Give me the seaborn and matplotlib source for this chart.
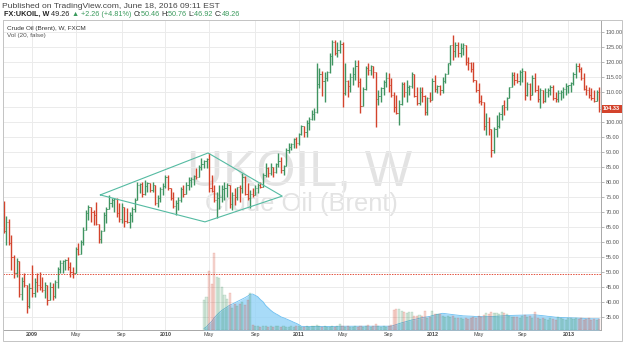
import matplotlib
matplotlib.use("Agg")
import matplotlib.pyplot as plt
import matplotlib.transforms as mtransforms
from matplotlib.colors import to_rgba
from matplotlib.patches import Rectangle
from matplotlib.ticker import StrMethodFormatter
import seaborn as sns
import numpy as np
import pandas as pd

# Weekly OHLC bars, FX:UKOIL, first bar = week of 2008-10-20
first_week = "2008-10-20"
first_open = 72.5
highs = [
    73.7, 68.4, 67.6, 62.3, 55.5, 54.6, 53.5, 48.2, 49.6, 45.6,
    46.2, 52.2, 47.9, 49.6, 49.9, 48.2, 46.5, 45.6, 46.5, 46.2,
    47.2, 51.5, 53.9, 53.9, 54.2, 54.9, 53.2, 51.6, 58.2, 59.6,
    60.6, 64.9, 70.6, 72.3, 71.6, 70.5, 73.3, 66.0, 63.9, 69.9,
    71.6, 75.6, 74.6, 74.6, 74.6, 72.9, 72.9, 71.6, 71.3, 69.9,
    71.7, 74.6, 80.0, 79.5, 80.0, 80.6, 80.0, 79.5, 80.0, 78.8,
    75.6, 78.4, 79.5, 82.3, 82.3, 78.0, 76.6, 73.9, 75.0, 78.4,
    78.9, 80.0, 81.6, 81.7, 82.3, 84.6, 85.6, 87.9, 87.3, 87.9,
    89.6, 82.3, 78.9, 76.6, 79.0, 78.9, 80.0, 79.5, 78.8, 76.7,
    77.8, 78.4, 78.9, 83.0, 82.0, 79.5, 77.3, 77.8, 78.9, 79.5,
    80.0, 82.8, 86.2, 85.0, 86.2, 85.0, 86.2, 89.5, 88.4, 85.6,
    91.2, 92.8, 92.8, 94.5, 95.0, 96.2, 99.0, 98.5, 100.6, 101.7,
    104.0, 104.5, 119.5, 117.9, 117.0, 116.5, 117.0, 123.0, 127.3, 127.3,
    126.5, 127.3, 126.8, 119.5, 114.0, 116.2, 118.4, 120.5, 120.7, 114.7,
    111.7, 118.5, 119.5, 119.0, 118.5, 116.5, 110.6, 111.7, 114.0, 116.8,
    116.2, 114.5, 110.0, 109.0, 107.3, 113.4, 113.4, 114.0, 112.3, 116.7,
    116.0, 111.7, 111.7, 111.7, 109.0, 108.4, 110.0, 114.7, 115.6, 112.3,
    112.3, 115.0, 116.2, 119.7, 125.7, 129.0, 126.8, 126.8, 126.2, 126.2,
    125.6, 121.7, 120.1, 120.0, 114.0, 113.0, 109.0, 106.5, 103.0, 101.7,
    97.5, 98.3, 102.3, 103.4, 105.6, 107.3, 108.4, 111.6, 116.7, 116.8,
    116.2, 117.3, 118.0, 117.0, 113.4, 112.9, 115.6, 116.2, 112.3, 111.3,
    110.5, 111.2, 111.2, 112.3, 112.3, 110.0, 110.6, 110.6, 111.7, 112.9,
    112.3, 113.4, 116.7, 119.7, 119.7, 118.4, 116.3, 112.3, 111.7, 111.2,
    110.7, 110.6, 111.6,
]
lows = [
    63.0, 58.9, 58.9, 50.6, 47.8, 48.2, 41.6, 40.5, 44.9, 36.2,
    37.9, 41.6, 41.6, 43.2, 43.9, 43.2, 41.2, 38.9, 40.5, 40.5,
    41.2, 44.5, 49.6, 49.6, 50.6, 50.6, 48.2, 47.9, 49.5, 55.6,
    55.8, 58.9, 63.8, 67.2, 66.6, 65.6, 65.6, 59.6, 59.6, 63.5,
    66.2, 70.8, 71.6, 69.9, 68.3, 66.6, 66.2, 64.9, 66.2, 64.6,
    66.7, 69.9, 74.0, 76.2, 75.0, 75.6, 76.7, 76.7, 76.7, 72.3,
    71.7, 73.4, 75.6, 77.9, 77.3, 73.9, 71.3, 68.9, 70.6, 73.4,
    75.0, 75.8, 77.3, 78.4, 78.9, 81.0, 81.7, 83.9, 84.5, 84.6,
    76.6, 76.6, 73.4, 67.9, 71.0, 73.4, 74.0, 75.0, 71.2, 70.6,
    72.3, 73.9, 73.4, 76.3, 75.6, 73.9, 71.2, 75.0, 75.5, 76.2,
    77.8, 78.3, 81.7, 81.7, 82.3, 81.7, 82.8, 85.0, 82.8, 82.3,
    85.3, 89.5, 90.5, 91.2, 91.2, 92.3, 95.6, 95.0, 95.0, 97.3,
    100.6, 100.6, 102.9, 111.2, 108.5, 106.6, 113.5, 116.3, 119.0, 122.3,
    121.5, 123.0, 105.0, 109.0, 108.4, 110.0, 112.3, 114.0, 111.7, 103.0,
    105.2, 110.6, 115.7, 115.6, 114.5, 98.4, 105.6, 106.7, 109.0, 111.7,
    110.0, 108.4, 103.4, 102.5, 99.0, 105.6, 108.4, 106.7, 109.0, 111.3,
    108.3, 105.6, 105.6, 106.7, 102.3, 102.3, 106.7, 107.3, 110.0, 109.5,
    109.0, 109.5, 112.9, 116.0, 119.0, 120.7, 121.8, 121.8, 121.8, 122.3,
    119.0, 117.3, 116.8, 113.3, 110.0, 106.3, 105.6, 97.3, 95.6, 95.6,
    88.3, 89.6, 95.0, 97.9, 100.6, 102.3, 104.0, 108.0, 111.5, 112.3,
    112.9, 112.3, 113.3, 107.3, 108.5, 107.3, 109.0, 110.0, 106.7, 104.6,
    106.2, 106.7, 108.4, 109.0, 107.3, 106.7, 106.7, 107.3, 107.9, 109.0,
    109.5, 110.0, 112.3, 114.7, 116.7, 114.0, 110.6, 109.0, 107.9, 107.3,
    106.6, 107.0, 103.3,
]
closes = [
    63.6, 66.5, 59.5, 55.0, 49.5, 53.5, 42.5, 47.0, 45.5, 38.5,
    44.5, 43.0, 46.5, 45.5, 45.0, 44.0, 45.5, 40.5, 45.0, 42.0,
    46.5, 51.0, 53.0, 53.5, 53.8, 51.5, 50.0, 49.5, 57.5, 56.0,
    60.0, 64.0, 69.5, 71.5, 70.0, 69.0, 66.0, 61.0, 63.5, 69.0,
    71.0, 73.0, 73.8, 74.2, 69.5, 67.5, 71.5, 67.0, 66.5, 69.0,
    71.0, 74.0, 79.0, 79.3, 76.0, 78.5, 79.5, 77.2, 78.8, 73.0,
    74.5, 77.5, 78.5, 81.5, 78.0, 74.5, 72.0, 73.0, 74.0, 77.5,
    76.0, 79.0, 80.5, 81.0, 82.0, 81.7, 85.0, 86.0, 86.8, 87.5,
    78.0, 77.0, 74.0, 74.5, 75.0, 77.5, 78.0, 78.8, 72.5, 75.6,
    74.8, 78.2, 77.8, 81.5, 76.0, 74.5, 76.0, 75.5, 78.0, 79.0,
    78.3, 82.3, 84.5, 83.0, 85.0, 83.2, 86.0, 87.0, 84.0, 85.3,
    90.7, 91.5, 92.5, 94.3, 93.0, 96.0, 98.5, 96.5, 99.5, 100.8,
    102.5, 103.2, 112.5, 116.0, 113.8, 114.5, 116.5, 122.0, 126.5, 123.0,
    124.0, 125.9, 109.5, 113.8, 112.0, 115.0, 116.0, 118.8, 113.2, 105.2,
    111.0, 118.0, 117.2, 118.5, 116.5, 107.5, 108.6, 111.3, 113.3, 114.5,
    112.2, 109.0, 105.0, 103.0, 105.9, 112.5, 109.8, 111.5, 112.0, 116.0,
    108.5, 106.4, 110.0, 108.6, 103.4, 107.9, 107.4, 113.5, 111.0, 111.8,
    110.5, 113.5, 116.0, 119.6, 125.5, 123.5, 125.8, 123.0, 124.5, 125.6,
    120.0, 119.5, 117.5, 114.0, 110.5, 107.0, 106.5, 98.5, 100.0, 97.5,
    90.5, 97.5, 98.5, 102.5, 105.5, 105.0, 108.0, 111.5, 115.5, 114.0,
    113.5, 116.5, 117.0, 109.0, 112.5, 109.0, 114.5, 110.5, 107.5, 110.5,
    107.0, 110.0, 110.5, 111.5, 108.0, 107.5, 109.5, 110.0, 110.8, 112.0,
    112.2, 113.0, 116.0, 118.8, 117.5, 114.5, 111.0, 110.5, 109.0, 108.0,
    107.0, 110.0, 104.33,
]

# Volume (arbitrary units) starts at bar 78 (week of 2010-04-19)
vol_start = 78
volumes = [
    30, 33, 59, 46, 77, 53, 52, 43, 35, 31, 37, 22, 26, 24, 26, 28, 25, 30, 37,
    5, 4, 4, 3, 4, 4, 3, 4, 3, 4,
    4, 3, 4, 3, 3, 4, 3, 4, 4, 3,
    3, 4, 3, 4, 4, 5, 4, 3, 4, 3,
    3, 4, 3, 4, 6, 4, 3, 4, 3, 3,
    4, 3, 4, 3, 4, 5, 3, 4, 6, 4,
    3, 4, 3, 4, 5,
    20, 21, 21, 19, 18, 17, 18, 18, 14, 14,
    15, 14, 19, 12, 13, 19, 16, 16, 16, 14,
    13, 14, 13, 14, 12, 12, 12, 11, 12, 11,
    12, 13, 12, 14, 13, 15, 17, 16, 18, 17,
    17, 16, 18, 17, 16, 14, 13, 13, 13, 12,
    14, 15, 13, 14, 12, 18, 12, 11, 12, 11,
    10, 12, 11, 10, 13, 12, 11, 10, 12, 12,
    11, 12, 11, 12, 10, 11, 12, 10, 11, 10,
    11,
]
ma_length = 20

# Drawing (diamond) annotation, in bar-index / price units
diamond_x = [37.6, 79.6, 108.5, 78.4, 37.6]
diamond_y = [75.6, 89.6, 75.2, 66.6, 75.6]
current_price = 49.26

# Theme
sns.set_style("white")
plt.rcParams["font.family"] = ["Liberation Sans", "DejaVu Sans"]

green = "#3f9461"
red = "#d3432c"
text_dark = "#333333"

n = len(closes)
idx = np.arange(n)
weeks = pd.date_range(first_week, periods=n, freq="7D")
opens = [first_open] + closes[:-1]
df = pd.DataFrame({"open": opens, "high": highs, "low": lows, "close": closes}, index=idx)
df["color"] = np.where(df["close"] >= df["open"], green, red)

vol = pd.Series(0.0, index=idx)
vol.iloc[vol_start:] = volumes
vol_ma = vol.rolling(ma_length, min_periods=1).mean()

W, H = 625, 342
fig = plt.figure(figsize=(W / 100, H / 100), dpi=100)
ax = fig.add_axes([3 / W, 1 - 330 / H, (600.7 - 3) / W, 310 / H])
ax.set_xlim(-0.3, 232.6)
ax.set_ylim(30.5, 134.0)

# Volume pane (overlay) - created first so the price axis keeps its right-hand scale
ax2 = ax.twinx()
ax2.fill_between(idx[vol_start:], 0, vol_ma.iloc[vol_start:], color="#93d2f7",
                 alpha=0.8, lw=0, zorder=1)
sns.lineplot(x=idx[vol_start:], y=vol_ma.iloc[vol_start:].values, ax=ax2,
             color="#6cbff1", lw=0.6, zorder=2)
vcols = df["color"].iloc[vol_start:]
ax2.bar(idx[vol_start:], volumes, width=0.8,
        color=[to_rgba(c, 0.2) for c in vcols],
        edgecolor=[to_rgba(c, 0.35) for c in vcols], lw=0.3, zorder=3)
ax2.set_axis_off()
ax2.set_xlim(ax.get_xlim())
ax2.set_ylim(0, 310)

# Watermark
ax.text(0.497, 0.4645, "UKOIL, W", transform=ax.transAxes, ha="center", va="baseline",
        fontsize=36, color="#e3e3e3", zorder=0)
ax.text(0.499, 0.384, "Crude Oil (Brent)", transform=ax.transAxes, ha="center", va="baseline",
        fontsize=18.4, color="#e3e3e3", zorder=0)

# Grid and axes
ticks, labels = [], []
for i, d in enumerate(weeks):
    if d.month in (1, 5, 9) and (i == 0 or weeks[i - 1].month != d.month):
        ticks.append(i)
        labels.append(str(d.year) if d.month == 1 else d.strftime("%b"))
ax.set_xticks(ticks)
ax.set_xticklabels(labels)
for lab in ax.get_xticklabels():
    if lab.get_text().isdigit():
        lab.set_fontweight("bold")
ax.yaxis.tick_right()
yticks = np.arange(35, 131, 5)
ax.set_yticks(yticks)
# the last-price tag covers the nearest scale label, as on the original
ax.set_yticklabels(["" if abs(v - closes[-1]) < 2 else f"{v:.2f}" for v in yticks])
ax.grid(True, color="#ebebeb", lw=0.7)
ax.set_axisbelow(True)
ax.tick_params(axis="x", length=0, labelsize=3.9, pad=1.5, labelcolor="#444444")
ax.tick_params(axis="y", which="both", left=False, labelleft=False, right=True,
               labelright=True, length=2.2, width=0.5, color="#9a9a9a", labelsize=4,
               pad=1.2, labelcolor="#555555")
for side in ["left", "top"]:
    ax.spines[side].set_color("#cfcfcf")
    ax.spines[side].set_linewidth(0.7)
for side in ["right", "bottom"]:
    ax.spines[side].set_color("#a8a8a8")
    ax.spines[side].set_linewidth(0.7)

# Price bars
ax.vlines(idx, df["low"], df["high"], colors=df["color"], lw=1.0, zorder=3)
ax.hlines(df["open"], idx - 0.45, idx, colors=df["color"], lw=0.6, zorder=3)
ax.hlines(df["close"], idx, idx + 0.45, colors=df["color"], lw=0.6, zorder=3)

# Drawing and price line
ax.plot(diamond_x, diamond_y, color="#55bba2", lw=0.8, zorder=4)
ax.axhline(current_price, color="#e3523f", lw=0.7, ls=(0, (1.5, 1.2)), zorder=4)

# Last close label on price scale
blend = mtransforms.blended_transform_factory(ax.transAxes, ax.transData)
ax.text(1.004, closes[-1], f"{closes[-1]:.2f}", transform=blend, ha="left", va="center",
        fontsize=4, color="white", fontweight="bold",
        bbox=dict(boxstyle="square,pad=0.28", fc=red, ec="none"), zorder=6)

# Legend inside pane
ax.text(4 / 597.7, (330 - 28.3) / 310, "Crude Oil (Brent), W, FXCM", transform=ax.transAxes,
        ha="left", va="center", fontsize=4.6, color=text_dark)
ax.text(4 / 597.7, (330 - 35.5) / 310, "Vol (20, false)", transform=ax.transAxes,
        ha="left", va="center", fontsize=4.6, color="#555555")

# Outer frame
fig.add_artist(Rectangle((3 / W, 1 / H), (622 - 3) / W, (342 - 20 - 1) / H,
                         transform=fig.transFigure, fill=False, ec="#c4c4c4", lw=0.7))

# Header
ident = mtransforms.IdentityTransform()
fig.text(2, H - 6, "Published on TradingView.com, June 18, 2016 09:11 EST",
         transform=ident, ha="left", va="center", fontsize=6.1, color="#444444")

renderer = fig.canvas.get_renderer()
parts = [
    ("FX:UKOIL, W ", "#222222", "bold"),
    ("49.26 ", "#222222", "normal"),
    ("\u25b2", "#3a9a5c", "normal"),
    (" +2.26 (+4.81%) ", "#3a9a5c", "normal"),
    ("O:", "#222222", "normal"),
    ("50.46 ", "#3a9a5c", "normal"),
    ("H:", "#222222", "normal"),
    ("50.76 ", "#3a9a5c", "normal"),
    ("L:", "#222222", "normal"),
    ("46.92 ", "#3a9a5c", "normal"),
    ("C:", "#222222", "normal"),
    ("49.26", "#3a9a5c", "normal"),
]
x = 4
for s, c, w in parts:
    t = fig.text(x, H - 14, s, transform=ident, ha="left", va="center",
                 fontsize=5.2, color=c, fontweight=w)
    x = t.get_window_extent(renderer).x1

fig.savefig("out.png", dpi=100)
